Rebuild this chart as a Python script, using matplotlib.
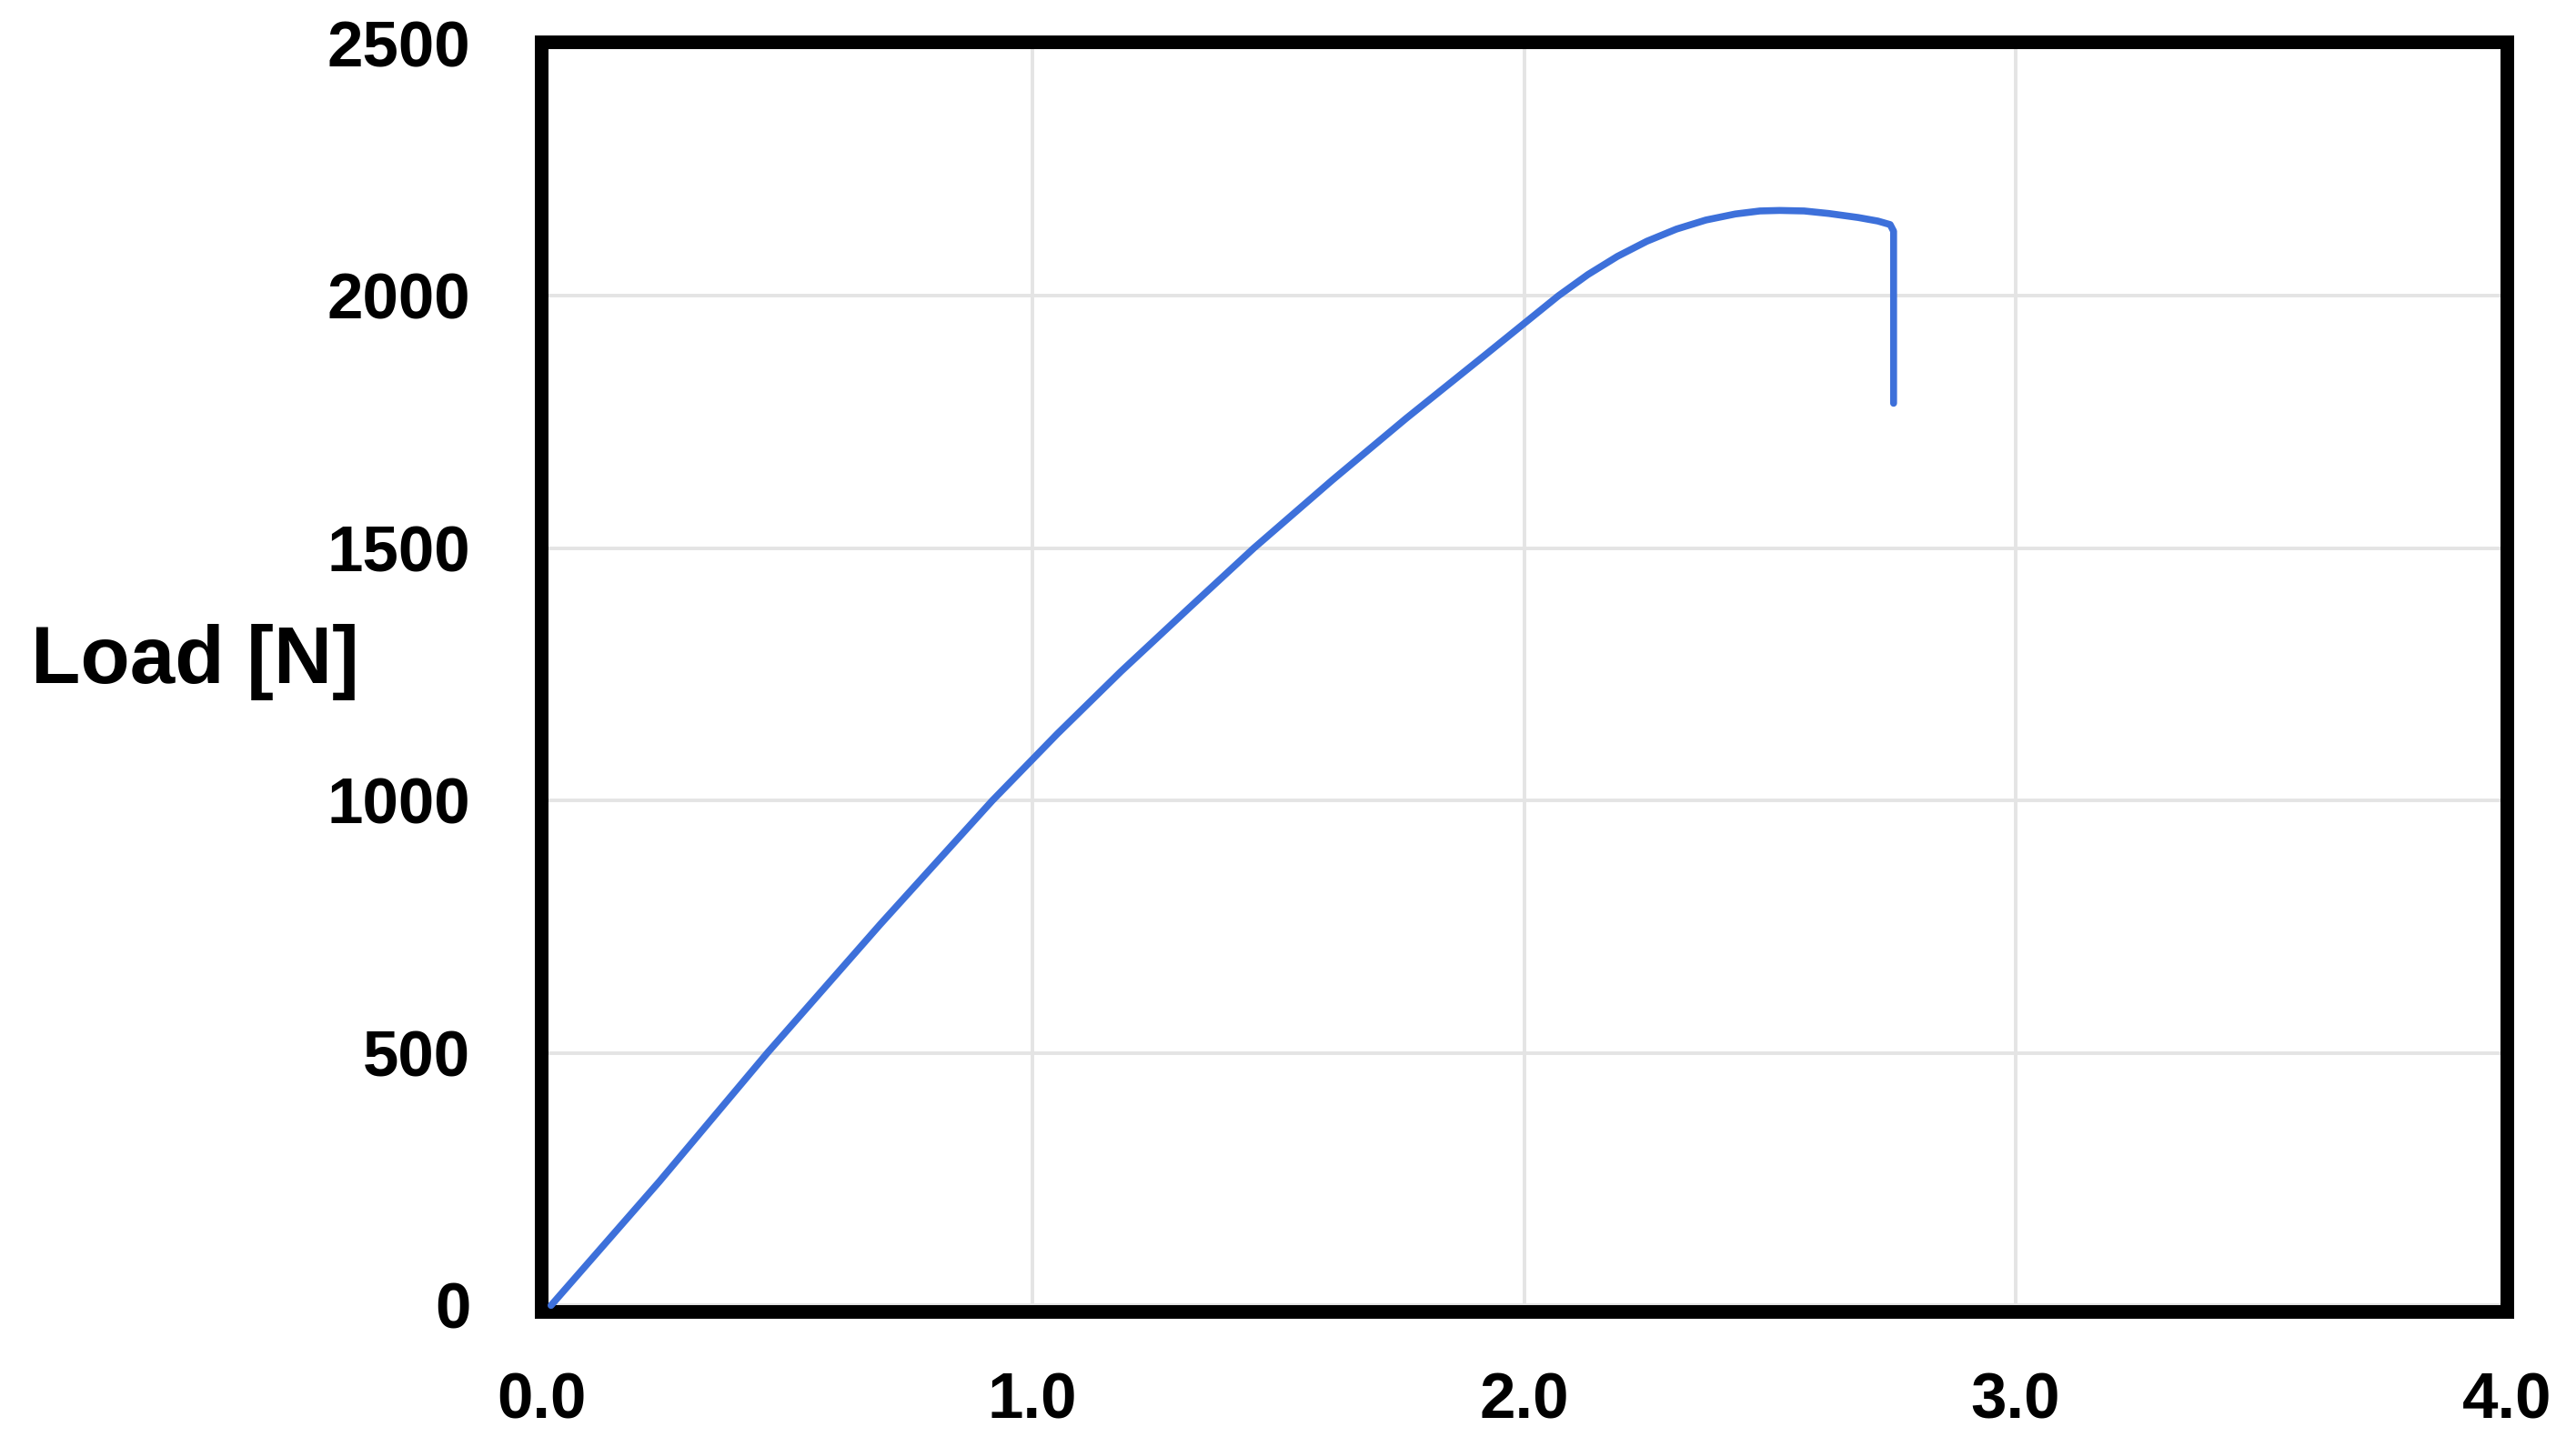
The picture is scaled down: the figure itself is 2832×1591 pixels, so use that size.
import matplotlib
matplotlib.use("Agg")
import matplotlib.pyplot as plt

# Data
extension = [0.02, 0.24, 0.46, 0.69, 0.918, 1.05, 1.18, 1.32, 1.45, 1.61,
             1.76, 1.92, 2.07, 2.13, 2.19, 2.25, 2.31, 2.37, 2.43, 2.48,
             2.52, 2.57, 2.62, 2.68, 2.72, 2.745, 2.752, 2.752]
load = [0, 245, 500, 755, 1000, 1132, 1256, 1383, 1500, 1635,
        1757, 1882, 2000, 2042, 2078, 2108, 2132, 2150, 2162, 2168,
        2169, 2168, 2163, 2155, 2148, 2141, 2128, 1787]

x_ticks = [0.0, 1.0, 2.0, 3.0, 4.0]
x_tick_labels = ["0.0", "1.0", "2.0", "3.0", "4.0"]
y_ticks = [0, 500, 1000, 1500, 2000, 2500]
y_tick_labels = ["0", "500", "1000", "1500", "2000", "2500"]
y_label = "Load [N]"

plt.rcParams['font.family'] = ['Liberation Sans', 'DejaVu Sans']

fig = plt.figure(figsize=(28.32, 15.91), dpi=100)
fig.patch.set_facecolor("white")
ax = fig.add_axes([595/2832, 149/1591, (2756-595)/2832, (1442-46)/1591])

ax.plot(extension, load, color="#3d70da", lw=5.5, solid_joinstyle="round",
        solid_capstyle="round", zorder=3)

ax.set_xlim(0, 4)
ax.set_ylim(-12, 2503)
ax.set_xticks(x_ticks)
ax.set_xticklabels(x_tick_labels)
ax.set_yticks(y_ticks)
ax.set_yticklabels(y_tick_labels)

ax.grid(True, color="#e4e4e4", lw=2.8, zorder=0)
ax.set_axisbelow(True)

for s in ax.spines.values():
    s.set_linewidth(10.8)
    s.set_color("black")
    s.set_capstyle("projecting")

ax.tick_params(axis="both", length=0, labelsize=51)
ax.tick_params(axis="y", pad=56)
ax.tick_params(axis="x", pad=48)
for lab in ax.get_xticklabels() + ax.get_yticklabels():
    lab.set_fontweight("bold")

ax.set_ylabel(y_label, rotation=0, fontsize=64, fontweight="bold",
              ha="center", va="center")
ax.yaxis.set_label_coords(-0.1763, 0.5115)

fig.savefig("out.png", dpi=100, facecolor="white")
